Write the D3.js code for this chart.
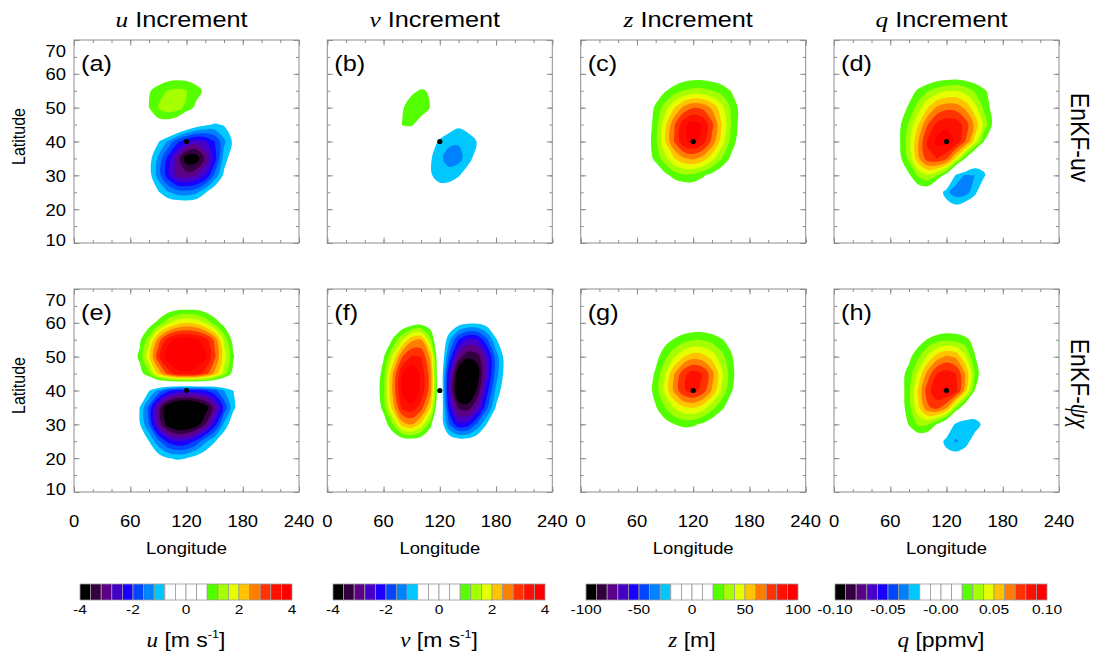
<!DOCTYPE html>
<html>
<head>
<meta charset="utf-8">
<script src="https://cdn.jsdelivr.net/npm/d3@7"></script>
<style>
  body { margin: 0; background: #fff; }
  text { font-family: "Liberation Sans", Arial, sans-serif; fill: #000; }
  .it { font-family: "Liberation Serif", "Times New Roman", serif; font-style: italic; }
</style>
</head>
<body>
<svg></svg>
<script>
// grid the increments are given on (rows run from north to south)
const lons = [40, 50, 60, 70, 80, 90, 100, 110, 120, 130, 140, 150, 160, 170, 180, 190, 200];
const lats = [70, 65, 60, 55, 50, 45, 40, 35, 30, 25, 20, 15, 10];
const obsPoint = [120, 40];

// EnKF-uv increments
const uIncUV = [
  [0,0,0,0,0,0,0,0,0,0,0,0,0,0,0,0,0],
  [0,0,0,0,0,0,0,0,0,0,0,0,0,0,0,0,0],
  [0,0,0.1,0.15,0.25,0.35,0.45,0.5,0.5,0.45,0.35,0.2,0.1,0,0,0,0],
  [0,0.1,0.3,0.55,0.75,1.0,1.22,1.3,1.2,0.98,0.7,0.4,0.2,0.1,0,0,0],
  [0,0.1,0.35,0.65,0.8,1.2,1.45,1.4,1.05,0.7,0.3,0,-0.2,-0.15,-0.05,0,0],
  [0,0.1,0.2,0.35,0.45,0.55,0.5,0.3,-0.1,-0.45,-0.7,-0.85,-0.75,-0.4,-0.15,0,0],
  [0,-0.05,-0.1,-0.2,-0.45,-0.75,-1.25,-1.85,-2.3,-2.6,-2.45,-2.0,-1.3,-0.7,-0.3,-0.1,0],
  [0,-0.1,-0.2,-0.45,-0.6,-1.3,-2.1,-2.95,-3.9,-3.9,-3.1,-2.2,-1.0,-0.5,-0.2,-0.05,0],
  [0,-0.05,-0.15,-0.4,-0.6,-1.4,-2.2,-2.9,-3.0,-2.85,-2.4,-1.5,-0.7,-0.25,-0.1,0,0],
  [0,0,-0.05,-0.2,-0.45,-0.75,-1.15,-1.4,-1.45,-1.3,-0.85,-0.4,-0.15,-0.05,0,0,0],
  [0,0,0,0,-0.05,-0.1,-0.1,-0.1,-0.1,-0.1,-0.05,0,0,0,0,0,0],
  [0,0,0,0,0,0,0,0,0,0,0,0,0,0,0,0,0],
  [0,0,0,0,0,0,0,0,0,0,0,0,0,0,0,0,0]
];
const vIncUV = [
  [0,0,0,0,0,0,0,0,0,0,0,0,0,0,0,0,0],
  [0,0,0,0,0,0,0,0,0,0,0,0,0,0,0,0,0],
  [0,0,0,0,0.1,0.2,0.3,0.3,0.2,0.1,0,0,0,0,0,0,0],
  [0,0,0.1,0.2,0.4,0.7,0.85,0.75,0.4,0.15,0,0,0,0,0,0,0],
  [0,0,0.1,0.3,0.75,1.05,1.0,0.78,0.3,0,-0.2,-0.2,-0.1,0,0,0,0],
  [0,0,0.15,0.4,0.82,0.85,0.6,0.2,-0.2,-0.5,-0.7,-0.6,-0.35,-0.1,0,0,0],
  [0,0,0.05,0.2,0.3,0.25,0.05,-0.45,-0.9,-1.1,-1.15,-1.0,-0.78,-0.4,-0.1,0,0],
  [0,0,0,0,0,-0.05,-0.3,-0.75,-1.1,-1.4,-1.35,-1.0,-0.55,-0.2,0,0,0],
  [0,0,0,0,0,0,-0.35,-0.75,-1.0,-1.0,-0.85,-0.5,-0.2,0,0,0,0],
  [0,0,0,0,0,0,-0.1,-0.4,-0.55,-0.5,-0.3,-0.1,0,0,0,0,0],
  [0,0,0,0,0,0,0,0,0,0,0,0,0,0,0,0,0],
  [0,0,0,0,0,0,0,0,0,0,0,0,0,0,0,0,0],
  [0,0,0,0,0,0,0,0,0,0,0,0,0,0,0,0,0]
];
const zIncUV = [
  [0,0,0,0,0,0,0,0,0,0,0,0,0,0,0,0,0],
  [0,0,0,0,0,0,0,0,0,0,0,0,0,0,0,0,0],
  [0,1,2,3,5,7,9,11,12,12,11,10,8,6,4,3,2],
  [1,3,5,9,13,19,25,30,33,33,30,26,20,14,9,6,3],
  [1,2,6,12,22,35,50,63,70,68,58,44,29,17,9,4,2],
  [1,2,6,12,25,47,69,87,95,89,73,51,31,16,7,3,1],
  [1,3,7,13,27,50,71,88,93,85,67,46,27,14,6,2,1],
  [1,3,6,13,23,36,50,59,62,56,44,31,18,10,4,2,1],
  [0,0,2,5,10,17,24,28,27,22,16,9,4,2,1,0,0],
  [0,0,1,2,3,5,7,8,9,8,6,4,2,1,0,0,0],
  [0,0,0,0,0,0,0,0,0,0,0,0,0,0,0,0,0],
  [0,0,0,0,0,0,0,0,0,0,0,0,0,0,0,0,0],
  [0,0,0,0,0,0,0,0,0,0,0,0,0,0,0,0,0]
];
const qIncUV = [
  [0,0,0,0,0,0,0,0,0,0,0,0,0,0,0,0,0],
  [0,0,0,0,0,0,0,0,0,0,0,0,0,0,0,0,0],
  [0,0,0,0.001,0.002,0.004,0.006,0.008,0.009,0.010,0.009,0.008,0.006,0.004,0.002,0.001,0],
  [0,0.002,0.004,0.008,0.014,0.022,0.029,0.035,0.039,0.040,0.036,0.029,0.022,0.014,0.007,0.003,0.001],
  [0,0.002,0.006,0.013,0.022,0.035,0.050,0.062,0.067,0.066,0.058,0.044,0.028,0.015,0.007,0.003,0.001],
  [0.001,0.004,0.010,0.018,0.032,0.050,0.070,0.083,0.088,0.086,0.076,0.058,0.037,0.017,0.006,0.002,0],
  [0.001,0.004,0.010,0.019,0.036,0.060,0.082,0.093,0.095,0.088,0.070,0.046,0.020,0.005,0,0,0],
  [0.001,0.003,0.008,0.017,0.033,0.058,0.076,0.080,0.072,0.048,0.020,-0.006,-0.012,-0.005,0,0,0],
  [0,0.001,0.003,0.009,0.018,0.032,0.038,0.030,0.014,-0.022,-0.031,-0.030,-0.022,-0.008,0,0,0],
  [0,0,0.001,0.003,0.006,0.010,0.010,-0.008,-0.027,-0.036,-0.035,-0.024,-0.006,0,0,0,0],
  [0,0,0,0,0,0,-0.002,-0.004,-0.010,-0.014,-0.008,-0.003,0,0,0,0,0],
  [0,0,0,0,0,0,0,0,0,0,0,0,0,0,0,0,0],
  [0,0,0,0,0,0,0,0,0,0,0,0,0,0,0,0,0]
];

// EnKF-psi/chi increments
const uIncPC = [
  [0,0,0,0,0,0,0,0,0,0,0,0,0,0,0,0,0],
  [0,0,0,0,0.1,0.2,0.35,0.45,0.45,0.45,0.35,0.2,0.1,0,0,0,0],
  [0,0.05,0.15,0.3,0.55,0.95,1.45,1.85,2.0,1.9,1.55,1.05,0.6,0.3,0.1,0,0],
  [0,0.1,0.3,0.7,1.4,2.6,3.4,3.75,3.8,3.7,3.4,2.7,1.5,0.6,0.2,0.05,0],
  [0.05,0.2,0.45,0.9,1.9,3.1,3.9,4.3,4.3,4.1,3.7,2.9,1.8,0.85,0.3,0.1,0],
  [0,0.1,0.3,0.6,1.1,2.1,2.9,3.4,3.5,3.4,3.0,2.3,1.4,0.6,0.2,0,0],
  [0,-0.05,-0.2,-0.4,-0.75,-1.3,-1.85,-2.15,-2.2,-2.15,-2.0,-1.7,-1.2,-0.8,-0.35,-0.1,0],
  [-0.05,-0.2,-0.45,-0.8,-1.7,-3.0,-4.0,-4.5,-4.6,-4.4,-3.9,-3.0,-1.9,-0.9,-0.4,-0.1,0],
  [0,-0.2,-0.4,-0.75,-1.6,-2.9,-3.8,-4.2,-4.2,-3.9,-3.2,-2.2,-1.1,-0.45,-0.15,0,0],
  [0,0,-0.15,-0.35,-0.8,-1.5,-2.1,-2.4,-2.3,-1.9,-1.3,-0.85,-0.4,-0.15,0,0,0],
  [0,0,0,-0.15,-0.3,-0.55,-0.78,-0.85,-0.8,-0.6,-0.4,-0.2,-0.1,0,0,0,0],
  [0,0,0,0,-0.05,-0.15,-0.25,-0.3,-0.25,-0.15,-0.05,0,0,0,0,0,0],
  [0,0,0,0,0,0,0,0,0,0,0,0,0,0,0,0,0]
];
const vIncPC = [
  [0,0,0,0,0,0,0,0,0,0,0,0,0,0,0,0,0],
  [0,0,0,0,0.1,0.15,0.2,0.15,0,-0.1,-0.2,-0.2,-0.2,-0.15,-0.1,0,0],
  [0,0,0.1,0.2,0.3,0.5,0.6,0.45,0,-0.3,-0.55,-0.7,-0.7,-0.55,-0.3,-0.1,0],
  [0,0.1,0.3,0.85,1.6,2.3,2.4,1.3,-0.1,-1.1,-2.0,-2.5,-2.4,-1.7,-0.85,-0.35,-0.1],
  [0.1,0.3,0.75,1.7,2.8,3.25,3.2,2.3,-0.05,-1.7,-3.0,-3.5,-3.4,-2.6,-1.4,-0.6,-0.2],
  [0.1,0.35,1.0,2.4,3.6,4.0,3.5,2.6,-0.05,-2.4,-4.0,-4.5,-3.9,-2.6,-1.4,-0.6,-0.2],
  [0.1,0.4,1.1,2.5,3.7,4.0,3.5,2.6,0,-2.6,-4.2,-4.3,-3.5,-2.2,-1.1,-0.45,-0.15],
  [0.1,0.35,0.95,2.2,3.3,3.5,3.0,2.0,-0.1,-2.2,-3.3,-3.4,-2.8,-1.7,-0.75,-0.3,-0.1],
  [0,0.15,0.5,1.2,2.2,2.4,1.9,0.95,-0.3,-1.6,-2.3,-2.2,-1.5,-0.8,-0.3,-0.1,0],
  [0,0,0.1,0.3,0.45,0.5,0.4,0.2,-0.1,-0.35,-0.5,-0.5,-0.35,-0.2,-0.05,0,0],
  [0,0,0,0,0,0,0,0,0,0,0,0,0,0,0,0,0],
  [0,0,0,0,0,0,0,0,0,0,0,0,0,0,0,0,0],
  [0,0,0,0,0,0,0,0,0,0,0,0,0,0,0,0,0]
];
const zIncPC = [
  [0,0,0,0,0,0,0,0,0,0,0,0,0,0,0,0,0],
  [0,0,0,0,0,0,0,0,0,0,0,0,0,0,0,0,0],
  [0,0,1,2,3,4,6,8,9,9,8,6,4,3,2,1,0],
  [1,2,4,7,11,16,21,26,29,29,26,21,16,11,7,4,2],
  [1,1,4,8,16,27,39,50,56,54,46,34,22,12,6,3,1],
  [0,2,4,11,22,39,60,77,85,80,64,43,25,12,5,2,1],
  [1,2,5,12,25,43,63,79,84,76,59,39,22,11,4,2,0],
  [1,2,5,10,19,30,41,49,51,45,34,23,13,6,3,1,0],
  [0,0,2,5,9,15,20,23,22,18,12,7,3,1,0,0,0],
  [0,0,0,1,2,3,5,6,7,6,5,3,2,1,0,0,0],
  [0,0,0,0,0,0,0,0,0,0,0,0,0,0,0,0,0],
  [0,0,0,0,0,0,0,0,0,0,0,0,0,0,0,0,0],
  [0,0,0,0,0,0,0,0,0,0,0,0,0,0,0,0,0]
];
const qIncPC = [
  [0,0,0,0,0,0,0,0,0,0,0,0,0,0,0,0,0],
  [0,0,0,0,0,0,0,0,0,0,0,0,0,0,0,0,0],
  [0,0,0,0.001,0.002,0.003,0.004,0.006,0.007,0.007,0.006,0.004,0.003,0.001,0,0,0],
  [0,0.001,0.002,0.004,0.008,0.014,0.021,0.026,0.028,0.027,0.023,0.016,0.009,0.004,0.001,0,0],
  [0,0.002,0.005,0.010,0.017,0.028,0.042,0.055,0.062,0.058,0.042,0.021,0.008,0.002,0,0,0],
  [0.001,0.003,0.007,0.015,0.024,0.042,0.064,0.080,0.085,0.080,0.060,0.030,0.008,0,0,0,0],
  [0.001,0.003,0.007,0.013,0.027,0.052,0.076,0.088,0.092,0.084,0.055,0.020,0.002,0,0,0,0],
  [0,0.002,0.005,0.013,0.026,0.048,0.068,0.074,0.062,0.032,0.008,-0.004,-0.008,-0.004,0,0,0],
  [0,0.001,0.003,0.009,0.021,0.032,0.031,0.019,0.003,-0.024,-0.029,-0.027,-0.016,-0.003,0,0,0],
  [0,0,0.001,0.003,0.006,0.008,0.006,-0.008,-0.026,-0.031,-0.026,-0.013,-0.003,0,0,0,0],
  [0,0,0,0,0,0,0,-0.004,-0.011,-0.013,-0.009,-0.003,0,0,0,0,0],
  [0,0,0,0,0,0,0,0,0,0,0,0,0,0,0,0,0],
  [0,0,0,0,0,0,0,0,0,0,0,0,0,0,0,0,0]
];

const varSymbols = ['u', 'v', 'z', 'q'];
const cbMax = [4, 4, 100, 0.1];
const cbTickValues = [[-4,-2,0,2,4], [-4,-2,0,2,4], [-100,-50,0,50,100], [-0.1,-0.05,0,0.05,0.1]];
const cbTickLabels = [['-4','-2','0','2','4'], ['-4','-2','0','2','4'],
                      ['-100','-50','0','50','100'], ['-0.10','-0.05','-0.00','0.05','0.10']];
const panelLetters = ['a','b','c','d','e','f','g','h'];
const lonMajor = [0, 60, 120, 180, 240];
const latMajor = [10, 20, 30, 40, 50, 60, 70];

// 20 filled levels from min to max of each colour bar
const levelColors = ['#000000','#35003f','#5b0087','#4600c8','#1a00ff','#0046ff','#0082ff','#00c8ff',
                     '#ffffff','#ffffff','#ffffff','#ffffff',
                     '#55ff00','#a5ff00','#e6ff00','#ffc300','#ff7d00','#ff3200','#ff0f00','#ff0000'];

const W = 1096, H = 656;
const panelW = 225, panelH = 203;
const colX = [74, 327.3, 580.7, 834];
const rowY = [40, 289];
const cbLeft = [80, 333, 586, 835], cbW = 212, cbY = 584, cbH = 16;
const axisGray = '#8c8c8c';
const textStretch = 1.15;

const svg = d3.select('svg').attr('width', W).attr('height', H);

const x = d3.scaleLinear().domain([0, 240]).range([0, panelW]);
const y = d3.scaleLinear().domain([10, 70]).range([panelH, 0]);
// contour coordinates -> lon/lat (grid point i sits at i + 0.5)
const gx = d3.scaleLinear().domain([0.5, lons.length - 0.5]).range([lons[0], lons[lons.length - 1]]);
const gy = d3.scaleLinear().domain([0.5, lats.length - 0.5]).range([lats[0], lats[lats.length - 1]]);

const contourLine = d3.line()
  .x(p => x(gx(p[0])))
  .y(p => y(gy(p[1])))
  .curve(d3.curveCatmullRomClosed.alpha(0.5));

function addText(parent, tx, ty, rot, size, anchor) {
  return parent.append('text')
    .attr('transform', `translate(${tx},${ty}) scale(${textStretch},1) rotate(${rot})`)
    .attr('font-size', size)
    .attr('text-anchor', anchor);
}

function drawField(g, field, step) {
  const values = field.flat();
  const levels = d3.range(2, 10);
  const gen = d3.contours().size([lons.length, lats.length]).thresholds(levels.map(k => k * step));
  const pathOf = mp => mp.coordinates
    .map(poly => poly.map(ring => contourLine(ring.slice(0, -1))).join(''))
    .join('');
  gen(values).forEach((c, i) => {
    g.append('path').attr('d', pathOf(c)).attr('fill', levelColors[10 + levels[i]]).attr('fill-rule', 'evenodd');
  });
  gen(values.map(v => -v)).forEach((c, i) => {
    g.append('path').attr('d', pathOf(c)).attr('fill', levelColors[9 - levels[i]]).attr('fill-rule', 'evenodd');
  });
}

function drawTicks(g) {
  const lonMinor = d3.range(0, 241, 20), latMinor = d3.range(10, 71, 5);
  const axes = [
    [d3.axisBottom(x), lonMinor, lonMajor, `translate(0,${panelH})`],
    [d3.axisTop(x), lonMinor, lonMajor, 'translate(0,0)'],
    [d3.axisLeft(y), latMinor, latMajor, 'translate(0,0)'],
    [d3.axisRight(y), latMinor, latMajor, `translate(${panelW},0)`]
  ];
  axes.forEach(([ax, minor, major, tr]) => {
    [[minor, -3], [major, -5.5]].forEach(([vals, len]) => {
      const a = g.append('g').attr('transform', tr)
        .call(ax.tickValues(vals).tickSize(len).tickFormat(''));
      a.select('.domain').remove();
      a.selectAll('line').attr('stroke', axisGray);
    });
  });
}

const fields = [[uIncUV, vIncUV, zIncUV, qIncUV], [uIncPC, vIncPC, zIncPC, qIncPC]];

fields.forEach((row, r) => row.forEach((field, c) => {
  const g = svg.append('g').attr('transform', `translate(${colX[c]},${rowY[r]})`);
  drawField(g, field, cbMax[c] / 10);

  g.append('circle')
    .attr('cx', x(obsPoint[0])).attr('cy', y(obsPoint[1])).attr('r', 2.6)
    .attr('fill', '#000');

  g.append('rect').attr('width', panelW).attr('height', panelH)
    .attr('fill', 'none').attr('stroke', axisGray).attr('stroke-width', 1);
  drawTicks(g);

  addText(g, 7, 31, 0, 22, 'start').text(`(${panelLetters[r * 4 + c]})`);

  if (c === 0) {
    latMajor.forEach(v => {
      const shift = v === 70 ? 16.5 : (v === 10 ? 3 : 6.5);
      addText(g, -8, y(v) + shift, 0, 16, 'end').text(v);
    });
    addText(g, -49, panelH / 2 - 5, -90, 16, 'middle').text('Latitude');
  }
  if (r === 1) {
    lonMajor.forEach(v => addText(g, x(v), panelH + 35, 0, 16, 'middle').text(v));
    addText(g, panelW / 2, panelH + 62, 0, 16, 'middle').text('Longitude');
  }
}));

// column titles
colX.forEach((x0, c) => {
  const t = addText(svg, x0 + panelW / 2 - 5, 27, 0, 22, 'middle');
  t.append('tspan').attr('class', 'it').text(varSymbols[c]);
  t.append('tspan').text(' Increment');
});

// row labels on the right
const r1 = addText(svg, 1071, rowY[0] + panelH / 2 - 4, 90, 23, 'middle');
r1.text('EnKF-uv');
const r2 = addText(svg, 1071, rowY[1] + panelH / 2 - 7, 90, 23, 'middle');
r2.append('tspan').text('EnKF-');
r2.append('tspan').attr('class', 'it').text('ψχ');

// colour bars
colX.forEach((x0, c) => {
  const cb = d3.scaleLinear().domain([-cbMax[c], cbMax[c]]).range([cbLeft[c], cbLeft[c] + cbW]);
  const step = cbMax[c] / 10;
  const g = svg.append('g');
  g.selectAll('rect').data(levelColors).join('rect')
    .attr('x', (d, i) => cb(-cbMax[c] + i * step))
    .attr('y', cbY)
    .attr('width', cb(step) - cb(0))
    .attr('height', cbH)
    .attr('fill', d => d)
    .attr('stroke', '#9a9a9a')
    .attr('stroke-width', 0.8);
  cbTickValues[c].forEach((v, i) => addText(g, cb(v), 614, 0, 13.5, 'middle').text(cbTickLabels[c][i]));

  const t = addText(g, cbLeft[c] + cbW / 2, 647, 0, 20, 'middle');
  t.append('tspan').attr('class', 'it').text(varSymbols[c]);
  if (c < 2) {
    t.append('tspan').text(' [m s');
    t.append('tspan').attr('font-size', 11).attr('dy', -9).text('-1');
    t.append('tspan').attr('dy', 9).text(']');
  } else {
    t.append('tspan').text(c === 2 ? ' [m]' : ' [ppmv]');
  }
});
</script>
</body>
</html>
